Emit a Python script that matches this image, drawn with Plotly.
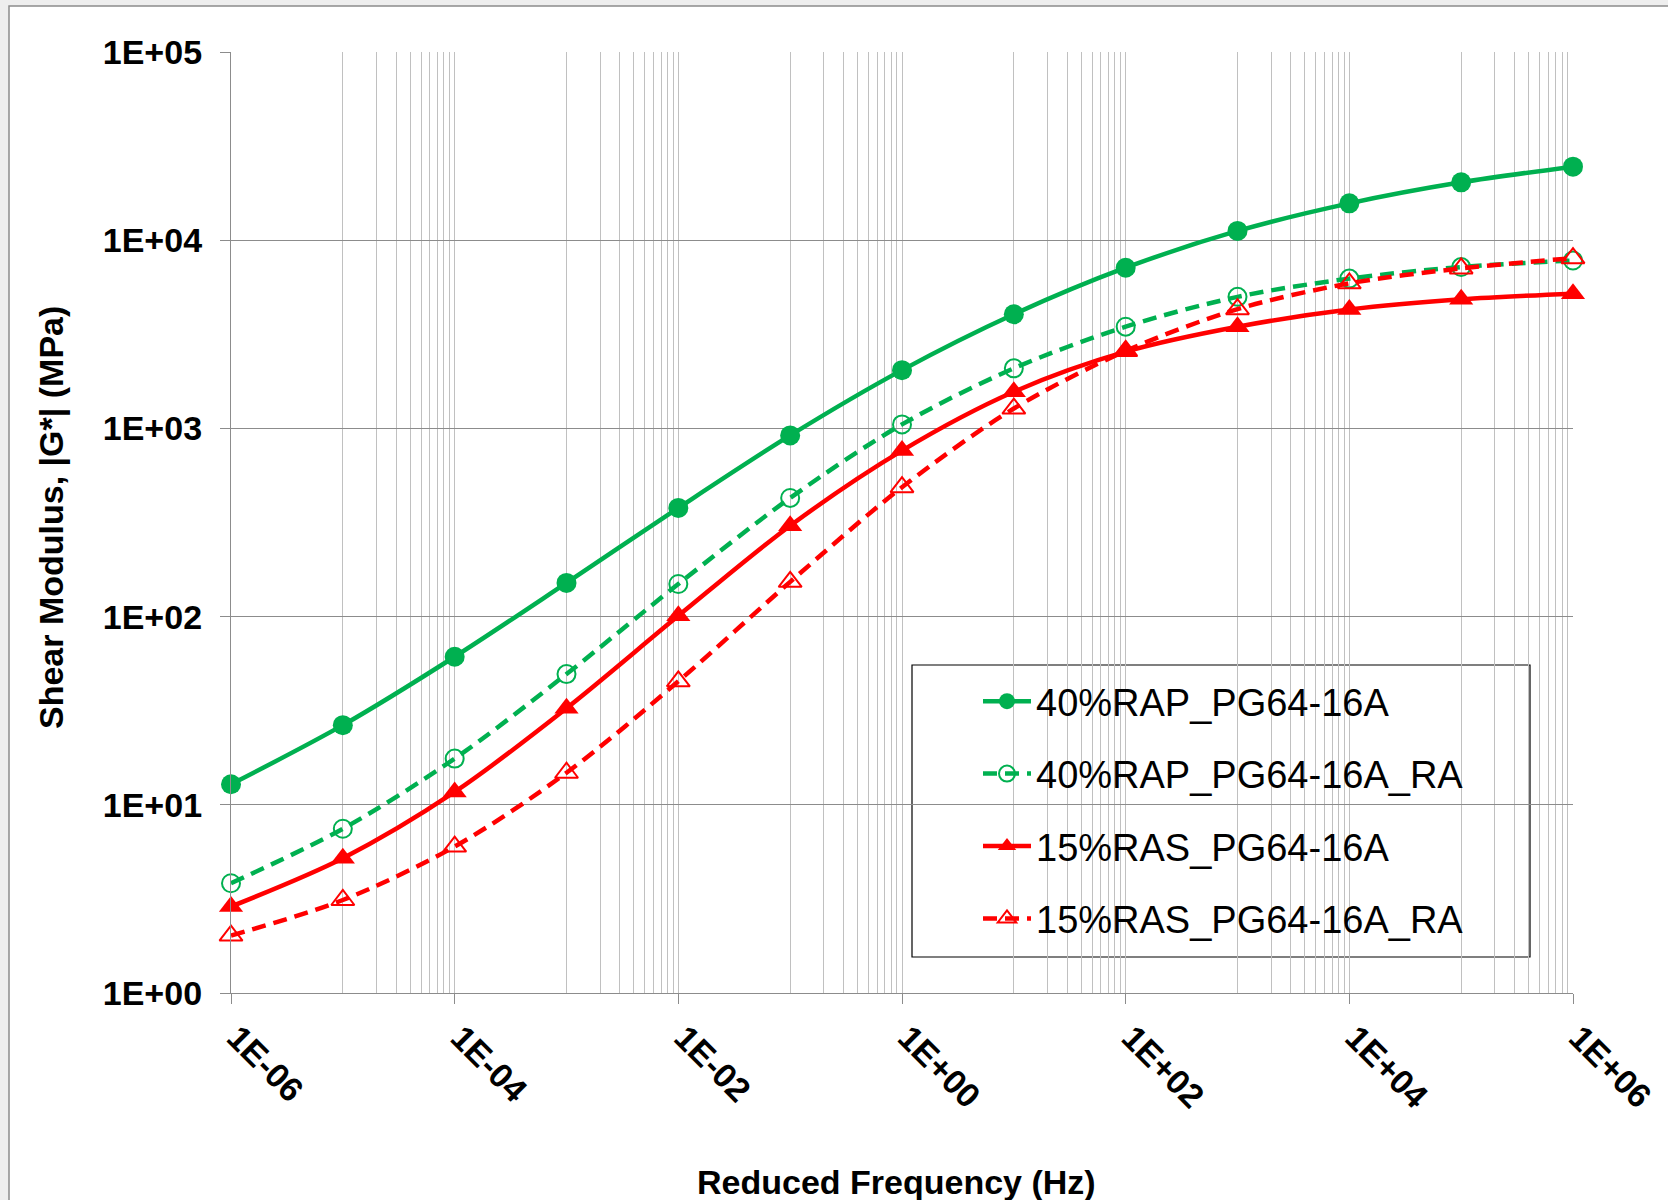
import plotly.graph_objects as go

# Reduced frequency (Hz) at each master-curve point
freq = [1e-6, 1e-5, 1e-4, 1e-3, 1e-2, 1e-1, 1e0, 1e1, 1e2, 1e3, 1e4, 1e5, 1e6]

# |G*| (MPa) for each mixture
g_rap = [12.85, 26.5, 61.2, 151, 378, 918, 2040, 4040, 7140, 11200, 15700, 20300, 24600]
g_rap_ra = [3.83, 7.46, 17.6, 49.5, 149, 427, 1050, 2085, 3470, 5000, 6250, 7200, 7800]
g_ras = [2.88, 5.2, 11.7, 32.6, 101, 304, 762, 1565, 2557, 3470, 4280, 4850, 5200]
g_ras_ra = [2.02, 3.12, 6.0, 14.8, 45.3, 153, 487, 1275, 2580, 4300, 5900, 7080, 8030]

series_names = ["40%RAP_PG64-16A", "40%RAP_PG64-16A_RA", "15%RAS_PG64-16A", "15%RAS_PG64-16A_RA"]
series_values = [g_rap, g_rap_ra, g_ras, g_ras_ra]

x_tick_vals = [1e-6, 1e-4, 1e-2, 1e0, 1e2, 1e4, 1e6]
x_tick_text = ["1E-06", "1E-04", "1E-02", "1E+00", "1E+02", "1E+04", "1E+06"]
y_tick_vals = [1e0, 1e1, 1e2, 1e3, 1e4, 1e5]
y_tick_text = ["1E+00", "1E+01", "1E+02", "1E+03", "1E+04", "1E+05"]

GREEN = "#00B050"
RED = "#FF0000"
FONT = "Liberation Sans, Arial, sans-serif"

styles = [
    dict(color=GREEN, dash="solid", symbol="circle", msize=20, mline=0),
    dict(color=GREEN, dash="14px,8px", symbol="circle-open", msize=18, mline=2),
    dict(color=RED, dash="solid", symbol="triangle-up", msize=21, mline=0),
    dict(color=RED, dash="14px,8px", symbol="triangle-up-open", msize=20, mline=2),
]

fig = go.Figure()
for i, (name, vals, st) in enumerate(zip(series_names, series_values, styles)):
    fig.add_trace(go.Scatter(
        x=freq, y=vals, name=name, mode="lines+markers",
        legendgroup=f"g{i}", cliponaxis=False,
        line=dict(color=st["color"], width=4.5, dash=st["dash"], shape="spline", smoothing=0.9),
        marker=dict(symbol=st["symbol"], size=st["msize"], color=st["color"],
                    line=dict(color=st["color"], width=st["mline"])),
    ))

# plot area in pixels: x 231..1573, y 52..993
L, R, T, B = 231, 95, 52, 207
W, H = 1668, 1200
pw, ph = W - L - R, H - T - B


def px_x(p):
    return (p - L) / pw


def px_y(p):
    return (H - B - p) / ph


minor_x = [k * 10.0 ** e for e in (-5, -3, -1, 1, 3, 5) for k in range(1, 10)]

fig.update_xaxes(
    type="log", range=[-6, 6], automargin=False,
    tickmode="array", tickvals=x_tick_vals, ticktext=x_tick_text,
    tickangle=45, ticks="outside", ticklen=10, tickwidth=1.3, tickcolor="#8c8c8c",
    tickfont=dict(family=FONT, size=34, color="black", weight="bold"),
    ticklabelstandoff=0, ticklabelshift=6,
    showline=True, linecolor="#8c8c8c", linewidth=1.3,
    showgrid=True, gridcolor="#c0c0c0", gridwidth=1.3,
    minor=dict(tickvals=minor_x, showgrid=True, gridcolor="#c0c0c0", gridwidth=1.3, ticks=""),
    zeroline=False,
)
fig.update_yaxes(
    type="log", range=[0, 5], automargin=False,
    tickmode="array", tickvals=y_tick_vals, ticktext=y_tick_text,
    ticks="outside", ticklen=10, tickwidth=1.3, tickcolor="#8c8c8c",
    tickfont=dict(family=FONT, size=34, color="black", weight="bold"),
    ticklabelstandoff=11,
    showline=True, linecolor="#8c8c8c", linewidth=1.3,
    showgrid=True, gridcolor="#8c8c8c", gridwidth=1.3,
    zeroline=False,
)

shapes = [
    # outer chart frame
    dict(type="rect", xref="paper", yref="paper", layer="below",
         x0=px_x(9), x1=px_x(1690), y0=px_y(1220), y1=px_y(6),
         line=dict(color="#8c8c8c", width=1.5), fillcolor="white"),
    # legend box
    dict(type="rect", xref="paper", yref="paper", layer="between",
         x0=px_x(912), x1=px_x(1530), y0=px_y(957), y1=px_y(665),
         line=dict(color="black", width=1.2), fillcolor="white"),
]

annotations = [
    dict(text="<b>Shear Modulus, |G*| (MPa)</b>", xref="paper", yref="paper",
         x=px_x(51), y=px_y(518), xanchor="center", yanchor="middle", textangle=-90,
         showarrow=False, font=dict(family=FONT, size=34, color="black")),
    dict(text="<b>Reduced Frequency (Hz)</b>", xref="paper", yref="paper",
         x=px_x(896), y=px_y(1182), xanchor="center", yanchor="middle",
         showarrow=False, font=dict(family=FONT, size=34, color="black")),
]

fig.update_layout(
    width=W, height=H,
    margin=dict(l=L, r=R, t=T, b=B, pad=0, autoexpand=False),
    paper_bgcolor="#eeeeee", plot_bgcolor="rgba(0,0,0,0)",
    shapes=shapes, annotations=annotations,
    showlegend=True,
    legend=dict(
        x=px_x(978), y=px_y(670), xanchor="left", yanchor="top",
        bgcolor="rgba(0,0,0,0)", borderwidth=0,
        font=dict(family=FONT, size=38, color="black"),
        tracegroupgap=20, itemwidth=48,
    ),
)

fig.write_html("out.html")
